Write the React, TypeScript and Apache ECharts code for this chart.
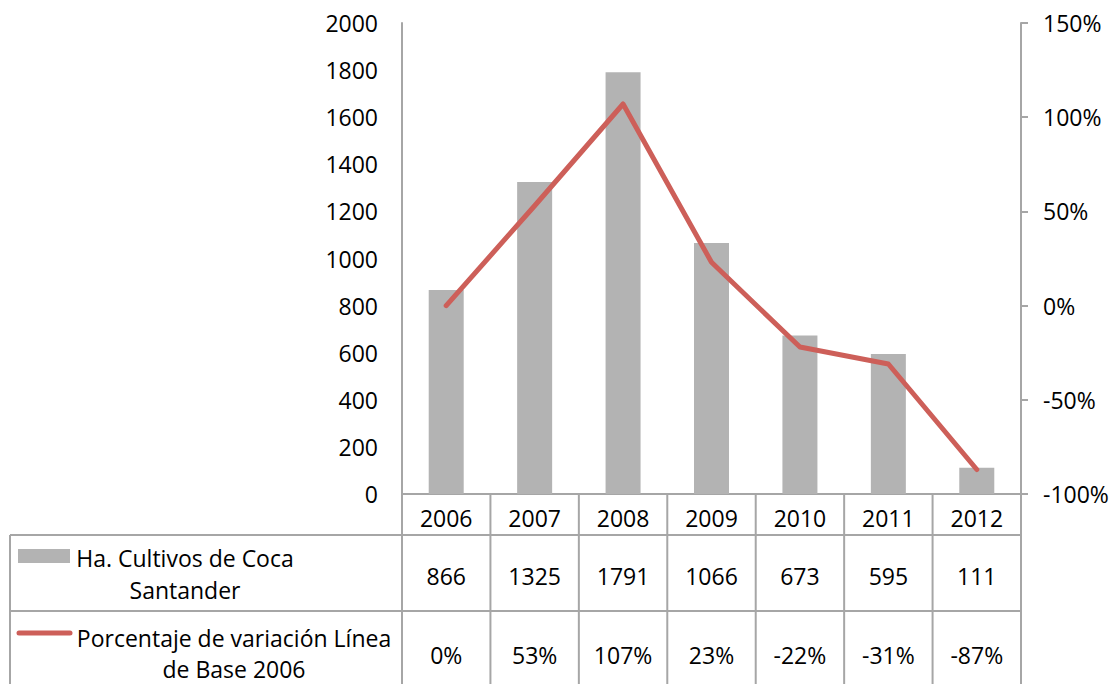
import React, { useEffect, useRef } from "react";
import * as echarts from "echarts";

const years = ["2006", "2007", "2008", "2009", "2010", "2011", "2012"];
const hectares = [866, 1325, 1791, 1066, 673, 595, 111];
const variation = [0, 53, 107, 23, -22, -31, -87];
const seriesNames = ["Ha. Cultivos de Coca\nSantander", "Porcentaje de variación Línea\nde Base 2006"];
const leftAxis = { min: 0, max: 2000, interval: 200 };
const rightAxis = { min: -100, max: 150, interval: 50 };

const FONT = "Open Sans";
const FS = 23;
const GRID_LEFT = 402;
const GRID_TOP = 23;
const GRID_W = 619;
const GRID_H = 471;
const AXIS_Y = GRID_TOP + GRID_H;
const ROW1_TOP = 535;
const ROW2_TOP = 611;
const TABLE_BOTTOM = 700;
const TABLE_LEFT = 10;
const LINE_COLOR = "#a6a6a6";
const BAR_COLOR = "#b3b3b3";
const RED = "#cd5f59";

export default function App() {
  const ref = useRef<HTMLDivElement>(null);
  useEffect(() => {
    if (!ref.current) return;
    const chart = echarts.init(ref.current, undefined, { renderer: "svg" });
    const textStyle = { fontFamily: FONT, fontSize: FS, color: "#000" };
    chart.setOption({
      animation: false,
      textStyle: { fontFamily: FONT },
      grid: { left: GRID_LEFT, top: GRID_TOP, width: GRID_W, height: GRID_H, containLabel: false },
      xAxis: {
        type: "category",
        data: years,
        axisLine: { show: true, lineStyle: { color: LINE_COLOR, width: 2 } },
        axisTick: { show: false },
        axisLabel: { ...textStyle, margin: 12 },
      },
      yAxis: [
        {
          type: "value",
          ...leftAxis,
          position: "left",
          axisLine: { show: true, lineStyle: { color: LINE_COLOR, width: 2 } },
          axisTick: { show: false },
          splitLine: { show: false },
          axisLabel: { ...textStyle, margin: 24, formatter: (v: number) => String(v) },
        },
        {
          type: "value",
          ...rightAxis,
          position: "right",
          axisLine: { show: true, lineStyle: { color: LINE_COLOR, width: 2 } },
          axisTick: { show: true, length: 7, lineStyle: { color: LINE_COLOR, width: 2 } },
          splitLine: { show: false },
          axisLabel: { ...textStyle, margin: 22, formatter: (v: number) => `${v}%` },
        },
      ],
      series: [
        {
          name: seriesNames[0],
          type: "bar",
          data: hectares,
          barWidth: 35,
          itemStyle: { color: BAR_COLOR },
          yAxisIndex: 0,
        },
        {
          name: seriesNames[1],
          type: "line",
          data: variation,
          yAxisIndex: 1,
          symbol: "none",
          lineStyle: { color: RED, width: 5, cap: "round", join: "round" },
          z: 5,
        },
      ],
    });

    const catW = GRID_W / years.length;
    const graphics: any[] = [];
    const stroke = { stroke: LINE_COLOR, lineWidth: 2 };
    for (let k = 0; k <= years.length; k++) {
      const x = GRID_LEFT + k * catW;
      graphics.push({ type: "line", shape: { x1: x, y1: AXIS_Y, x2: x, y2: TABLE_BOTTOM }, style: stroke, silent: true });
    }
    graphics.push({ type: "line", shape: { x1: TABLE_LEFT, y1: ROW1_TOP, x2: TABLE_LEFT, y2: TABLE_BOTTOM }, style: stroke });
    graphics.push({ type: "line", shape: { x1: TABLE_LEFT, y1: ROW1_TOP, x2: GRID_LEFT + GRID_W, y2: ROW1_TOP }, style: stroke });
    graphics.push({ type: "line", shape: { x1: TABLE_LEFT, y1: ROW2_TOP, x2: GRID_LEFT + GRID_W, y2: ROW2_TOP }, style: stroke });

    graphics.push({ type: "rect", shape: { x: 18, y: 549, width: 52, height: 14 }, style: { fill: BAR_COLOR } });
    graphics.push({ type: "line", shape: { x1: 19, y1: 633, x2: 70, y2: 633 }, style: { stroke: RED, lineWidth: 5, lineCap: "round" } });
    graphics.push({
      type: "text", x: 185, y: 574,
      style: { text: seriesNames[0], font: `${FS}px '${FONT}'`, fill: "#000", align: "center", verticalAlign: "middle", lineHeight: 32 },
    });
    graphics.push({
      type: "text", x: 234, y: 653,
      style: { text: seriesNames[1], font: `${FS}px '${FONT}'`, fill: "#000", align: "center", verticalAlign: "middle", lineHeight: 31 },
    });

    years.forEach((_, i) => {
      const cx = chart.convertToPixel({ xAxisIndex: 0 }, i) as number;
      graphics.push({
        type: "text", x: cx, y: 576,
        style: { text: String(hectares[i]), font: `${FS}px '${FONT}'`, fill: "#000", align: "center", verticalAlign: "middle" },
      });
      graphics.push({
        type: "text", x: cx, y: 655,
        style: { text: `${variation[i]}%`, font: `${FS}px '${FONT}'`, fill: "#000", align: "center", verticalAlign: "middle" },
      });
    });

    chart.setOption({ graphic: graphics });
    return () => chart.dispose();
  }, []);
  return <div ref={ref} style={{ position: "absolute", left: 0, top: 0, width: 1119, height: 684 }} />;
}
